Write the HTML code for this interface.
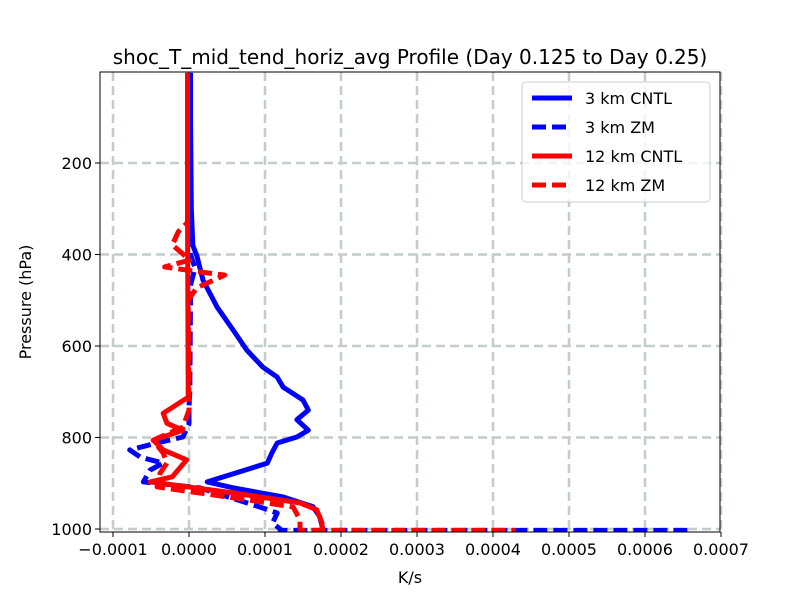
<!DOCTYPE html>
<html><head><meta charset="utf-8"><style>
body{margin:0;background:#fff;}
svg{font-family:"DejaVu Sans","Liberation Sans",sans-serif;}
</style></head><body>
<svg id="chart" width="800" height="600">
<rect width="800" height="600" fill="#fff"/>
<text x="410" y="64" text-anchor="middle" font-size="20">shoc_T_mid_tend_horiz_avg Profile (Day 0.125 to Day 0.25)</text>
<g id="grid"></g><g id="series"></g><g id="axes"></g>
<text x="410" y="583" text-anchor="middle" font-size="16">K/s</text>
<text transform="translate(31,302) rotate(-90)" text-anchor="middle" font-size="16">Pressure (hPa)</text>
<g id="legend"></g>
</svg>
<script>
// values in units of 1e-5 K/s, pressure in hPa
const xTicks=[-10,0,10,20,30,40,50,60,70];
const xTickLabels=["\u22120.0001","0.0000","0.0001","0.0002","0.0003","0.0004","0.0005","0.0006","0.0007"];
const yTicks=[200,400,600,800,1000];
const cntl3P=[3,100,300,380,404,456,515,565,609,646,668,690,718,740,761,784,799,812,834,856,897,910,930,951,973,1000,1003];
const cntl3V=[0.2,0.2,0.3,0.5,1.05,1.84,3.7,5.8,7.6,9.7,11.6,12.4,15,15.7,14.2,15.7,14.2,11.6,10.9,10.3,2.4,5.8,12.4,16.3,17.2,17.6,17.6];
const zm3P=[3,300,400,430,460,477,490,700,733,770,799,812,827,843,856,871,897,910,952,965,987,1000,1003,1003];
const zm3V=[0.1,0.1,0.2,0.8,0.3,0.1,0.2,0.1,0,0,-0.8,-4.2,-7.8,-6.4,-3.4,-5.1,-6,1.4,9.3,11.6,11,12,12,66.3];
const cntl12P=[3,300,700,712,747,769,784,806,827,849,886,897,921,943,958,987,1000];
const cntl12V=[-0.2,-0.2,-0.1,-0.1,-3.4,-2.9,-0.8,-4.7,-3.4,-0.3,-2.2,-5.1,5.8,14.6,16.8,17.5,17.5];
const zm12P=[3,330,350,379,412,427,438,445,473,500,740,777,806,834,856,878,908,937,952,980,1000,1003,1003];
const zm12V=[-0.2,-0.2,-1.4,-2.2,0.1,-3.2,1.4,4.7,1,-0.1,0,-0.8,-4.7,-3.4,-2.9,-3.8,-4.2,8,13.7,14.6,14.6,14.6,43];
const NS='http://www.w3.org/2000/svg';
const L=100,R=720,T=72,B=532;
function xs(v){return 189+v*7.6;}
function ys(p){return 163+(p-200)*0.4575;}
function mk(tag,attrs,parent){const e=document.createElementNS(NS,tag);for(const k in attrs)e.setAttribute(k,attrs[k]);parent.appendChild(e);return e;}
const grid=document.getElementById('grid'),axes=document.getElementById('axes'),ser=document.getElementById('series'),leg=document.getElementById('legend');
xTicks.forEach((t,i)=>{const x=xs(t);
 const g=mk('line',{x1:x,x2:x,y1:T,y2:B,stroke:'#c4cccc',"stroke-width":2.5,"stroke-dasharray":"9,5"},grid);
 
 
 const tk=mk('line',{x1:x,x2:x,y1:B,y2:B+5,stroke:'#000'},axes);
 
 
 const tl=mk('text',{x:x,y:B+23,"text-anchor":"middle","font-size":16},axes);tl.textContent=xTickLabels[i];
 
 
});
yTicks.forEach(t=>{const y=ys(t);
 const g=mk('line',{x1:L,x2:R,y1:y,y2:y,stroke:'#c4cccc',"stroke-width":2.5,"stroke-dasharray":"9,5"},grid);
 
 
 const tk=mk('line',{x1:L-5,x2:L,y1:y,y2:y,stroke:'#000'},axes);
 
 
 const tl=mk('text',{x:L-8,y:y+6,"text-anchor":"end","font-size":16},axes);tl.textContent=String(t);
 
 
});
const fr=mk('rect',{x:L,y:T,width:R-L,height:B-T,fill:'none',stroke:'#000'},axes);


function line(P,V,color,dash,name){
 const d=P.map((p,i)=>(i?'L':'M')+xs(V[i]).toFixed(1)+','+ys(p).toFixed(1)).join('');
 const a={d:d,fill:'none',stroke:color,"stroke-width":5,"stroke-linejoin":"round"};if(dash)a["stroke-dasharray"]="14,6";
 const e=mk('path',a,ser);
 
 
}
const clip=mk('clipPath',{id:'pc'},ser);mk('rect',{x:L,y:T,width:R-L,height:B-T},clip);ser.setAttribute('clip-path','url(#pc)');
line(cntl3P,cntl3V,'#0000ff',false,'series-3km-cntl');
line(zm3P,zm3V,'#0000ff',true,'series-3km-zm');
line(cntl12P,cntl12V,'#ff0000',false,'series-12km-cntl');
line(zm12P,zm12V,'#ff0000',true,'series-12km-zm');
const lb=mk('rect',{x:522,y:82,width:188,height:120,rx:4,fill:'#fff',"fill-opacity":0.8,stroke:'#ccc'},leg);


[["3 km CNTL",'#0000ff',false],["3 km ZM",'#0000ff',true],["12 km CNTL",'#ff0000',false],["12 km ZM",'#ff0000',true]].forEach((e,i)=>{
 const y=98+i*29;
 const a={x1:532,x2:572,y1:y,y2:y,stroke:e[1],"stroke-width":5};if(e[2])a["stroke-dasharray"]="14,6";
 const ln=mk('line',a,leg);
 
 
 const t=mk('text',{x:585,y:y+6,"font-size":16},leg);t.textContent=e[0];
 
 
});
</script>
</body></html>
